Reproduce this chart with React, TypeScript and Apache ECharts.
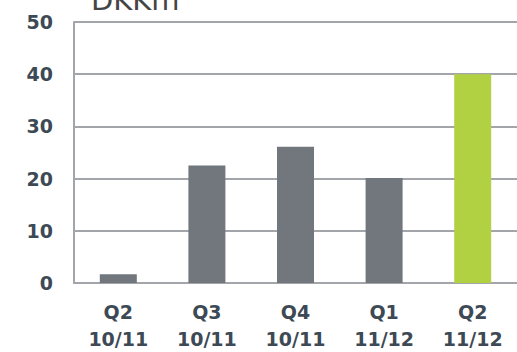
import React, { useEffect, useRef } from "react";
import * as echarts from "echarts";

const quarters = ["Q2\n10/11", "Q3\n10/11", "Q4\n10/11", "Q1\n11/12", "Q2\n11/12"];
const values = [1.7, 22.5, 26.1, 20.1, 40];
const barColors = ["#71777d", "#71777d", "#71777d", "#71777d", "#b2d142"];
const unitLabel = "DKKm";

export default function App() {
  const ref = useRef<HTMLDivElement>(null);

  useEffect(() => {
    if (!ref.current) return;
    const chart = echarts.init(ref.current, undefined, { renderer: "svg" });
    const labelColor = "#3d4a55";
    const lineColor = "#a2a6aa";
    chart.setOption({
      animation: false,
      backgroundColor: "#ffffff",
      grid: { left: 74, right: 0, top: 22, bottom: 66 },
      graphic: [
        {
          type: "text",
          left: 91,
          top: -15,
          style: {
            text: unitLabel,
            fill: "#454545",
            font: "29px 'DejaVu Sans'",
          },
        },
      ],
      xAxis: {
        type: "category",
        data: quarters,
        axisTick: { show: false },
        axisLine: { show: true, lineStyle: { color: lineColor, width: 2 } },
        axisLabel: {
          color: labelColor,
          fontFamily: "DejaVu Sans",
          fontWeight: "bold",
          fontSize: 19,
          lineHeight: 27,
          margin: 15,
        },
      },
      yAxis: {
        type: "value",
        min: 0,
        max: 50,
        interval: 10,
        axisLine: { show: true, lineStyle: { color: lineColor, width: 2 } },
        axisTick: { show: false },
        splitLine: { lineStyle: { color: lineColor, width: 2 } },
        axisLabel: {
          color: labelColor,
          fontFamily: "DejaVu Sans",
          fontWeight: "bold",
          fontSize: 19,
          margin: 21,
        },
      },
      series: [
        {
          type: "bar",
          barWidth: 37,
          data: values.map((v, i) => ({ value: v, itemStyle: { color: barColors[i] } })),
        },
      ],
    });
    return () => chart.dispose();
  }, []);

  return <div ref={ref} style={{ width: 517, height: 352, position: "absolute", left: 0, top: 0 }} />;
}
